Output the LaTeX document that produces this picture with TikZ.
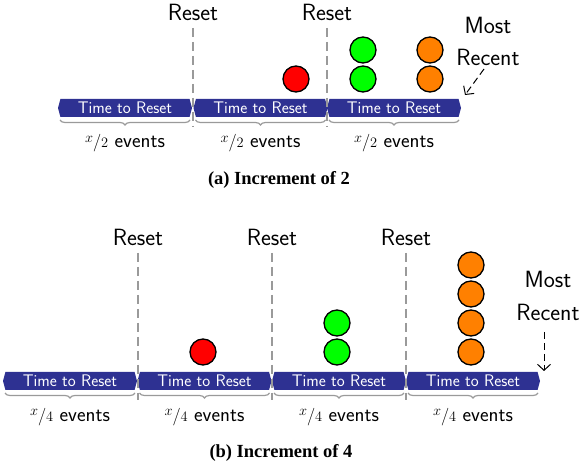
\documentclass[tikz,border=0pt]{standalone}
\usepackage{amsmath, amssymb}
\usepackage{graphicx}
\usepackage{fontspec}
\newfontfamily\capfont{Liberation Serif}
\usetikzlibrary{decorations.pathreplacing}
\usetikzlibrary{positioning, arrows.meta, shapes.symbols}
\definecolor{BarBlue}{HTML}{2E3192}
\definecolor{DotOrange}{HTML}{FF8000}
\definecolor{DashGray}{HTML}{9A9A9A}
\newcommand{\evfrac}[1]{$\raisebox{5pt}{$\scriptstyle x$}\scalebox{0.85}{$/$}{\scriptstyle #1}$}
\tikzset{
    resetbar/.style={signal, signal to=east and west, signal pointer angle=150, fill=BarBlue, text=white, minimum width=134, minimum height=18, inner sep=0pt, outer sep=0pt, font=\sffamily\fontsize{16.8}{18}\selectfont},
    evdot/.style={circle, draw=black, line width=1.3pt, minimum size=26, inner sep=0pt},
    resetlabel/.style={font=\sffamily\fontsize{23.5}{26}\selectfont, inner sep=0pt},
    countlabel/.style={font=\sffamily\fontsize{20.5}{22}\selectfont, inner sep=0pt},
    captionlabel/.style={font=\capfont\bfseries\fontsize{18.5}{20}\selectfont, inner sep=0pt},
    resetline/.style={DashGray, line width=1.2pt, dash pattern=on 9pt off 5pt},
    evbrace/.style={decorate, decoration={brace, amplitude=5pt}, DashGray, line width=1.2pt},
    recentarrow/.style={-{Straight Barb[width=13pt,length=6pt]}, black, line width=1pt, dash pattern=on 7pt off 4pt},
}
\begin{document}
\begin{tikzpicture}[x=1pt, y=1pt]
    \useasboundingbox (0,0) rectangle (584,469);

    % Increment of 2
    \foreach \n/\x in {1/125, 2/260.5, 3/394} {
        \node[resetbar] (barA\n) at (\x,361) {Time to Reset};
        \draw[evbrace] ([xshift=65,yshift=-3]barA\n.south) -- ([xshift=-65,yshift=-3]barA\n.south);
        \node[countlabel, anchor=base] (countA\n) at (\x,321) {\evfrac{2} events};
    }
    \foreach \n/\x in {1/193, 2/327} {
        \node[resetlabel] (resetA\n) at (\x,457) {Reset};
        \coordinate (footA\n) at (\x,342);
        \draw[resetline] ([yshift=-16]resetA\n.center) -- (footA\n);
    }
    \node[evdot, fill=red] (redA) at (296,390) {};
    \foreach \n/\y in {1/390, 2/419} {
        \node[evdot, fill=green] (greenA\n) at (363,\y) {};
        \node[evdot, fill=DotOrange] (orangeA\n) at (430,\y) {};
    }
    \node[resetlabel] (mostA) at (488,444) {Most};
    \node[resetlabel] (recentA) at (488,412) {Recent};
    \coordinate (endA) at (465,374);
    \draw[recentarrow] ([xshift=-4,yshift=-12]recentA.center) -- (endA);
    \node[captionlabel] (captionA) at (279,289) {(a) Increment of 2};

    % Increment of 4
    \foreach \n/\x in {1/70, 2/204.5, 3/339, 4/473} {
        \node[resetbar] (barB\n) at (\x,88) {Time to Reset};
        \draw[evbrace] ([xshift=65,yshift=-3]barB\n.south) -- ([xshift=-65,yshift=-3]barB\n.south);
        \node[countlabel, anchor=base] (countB\n) at (\x,48) {\evfrac{4} events};
    }
    \foreach \n/\x in {1/138, 2/272, 3/406} {
        \node[resetlabel] (resetB\n) at (\x,232) {Reset};
        \coordinate (footB\n) at (\x,69);
        \draw[resetline] ([yshift=-16]resetB\n.center) -- (footB\n);
    }
    \node[evdot, fill=red] (redB) at (203,117) {};
    \foreach \n/\y in {1/117, 2/146} {
        \node[evdot, fill=green] (greenB\n) at (337,\y) {};
    }
    \foreach \n/\y in {1/117, 2/146, 3/175, 4/204} {
        \node[evdot, fill=DotOrange] (orangeB\n) at (471,\y) {};
    }
    \node[resetlabel] (mostB) at (548,190) {Most};
    \node[resetlabel] (recentB) at (548,157) {Recent};
    \coordinate (endB) at (544,98);
    \draw[recentarrow] ([xshift=-4,yshift=-20]recentB.center) -- (endB);
    \node[captionlabel] (captionB) at (281,16) {(b) Increment of 4};
\end{tikzpicture}
\end{document}
